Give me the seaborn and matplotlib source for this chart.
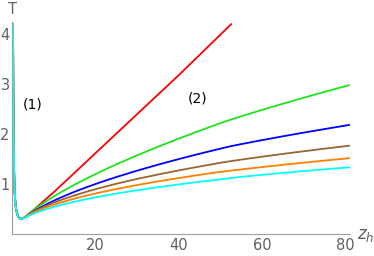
import matplotlib
matplotlib.use("Agg")
import matplotlib.pyplot as plt
from matplotlib.ticker import MultipleLocator
import seaborn as sns
import pandas as pd

# shared small-z branch (all curves coincide here)
z_left = [0.15, 0.2, 0.25, 0.3, 0.4, 0.5, 0.6, 0.8, 1.0, 1.3, 1.5, 1.8, 2.1, 2.5]
T_left = [4.2, 3.1, 2.4, 1.9, 1.3, 0.95, 0.75, 0.55, 0.45, 0.37, 0.34, 0.31, 0.305, 0.315]

# large-z branches
z_red = [3, 10, 20, 30, 40, 52.6]
T_red = [0.33, 0.84, 1.62, 2.40, 3.18, 4.2]

z_right = [3, 4, 5, 6, 8, 10, 12, 15, 18, 21, 25, 30, 35, 40, 45, 50, 52.3,
           55, 60, 65, 70, 75, 81]
T_green = [0.337, 0.408, 0.474, 0.536, 0.649, 0.754, 0.852, 0.99, 1.118, 1.24,
           1.394, 1.575, 1.746, 1.909, 2.066, 2.218, 2.284,
           2.355, 2.482, 2.606, 2.726, 2.843, 2.979]
T_blue = [0.331, 0.392, 0.446, 0.496, 0.587, 0.668, 0.743, 0.847, 0.941, 1.03,
          1.14, 1.268, 1.387, 1.499, 1.606, 1.708, 1.753,
          1.798, 1.878, 1.954, 2.028, 2.099, 2.182]
T_brown = [0.338, 0.392, 0.439, 0.483, 0.56, 0.628, 0.69, 0.774, 0.85, 0.92,
           1.006, 1.103, 1.19, 1.273, 1.35, 1.425, 1.455,
           1.488, 1.546, 1.602, 1.655, 1.707, 1.766]
T_orange = [0.335, 0.383, 0.425, 0.463, 0.529, 0.587, 0.639, 0.71, 0.772, 0.83,
            0.9, 0.98, 1.053, 1.12, 1.184, 1.244, 1.265,
            1.292, 1.339, 1.384, 1.427, 1.469, 1.516]
T_cyan = [0.322, 0.365, 0.402, 0.435, 0.493, 0.543, 0.588, 0.648, 0.701, 0.75,
          0.809, 0.876, 0.937, 0.992, 1.045, 1.094, 1.117,
          1.143, 1.183, 1.222, 1.259, 1.294, 1.334]

curves = [
    ("red", "#ff0000", z_red, T_red),
    ("green", "#1fe31f", z_right, T_green),
    ("blue", "#0000ff", z_right, T_blue),
    ("brown", "#996633", z_right, T_brown),
    ("orange", "#ff8000", z_right, T_orange),
    ("cyan", "#00ffff", z_right, T_cyan),
]

rows = []
for name, _, zs, ts in curves:
    for z, t in zip(z_left + zs, T_left + ts):
        rows.append({"z": z, "T": t, "curve": name})
df = pd.DataFrame(rows)
palette = {name: col for name, col, _, _ in curves}

sns.set_style("white")
fig = plt.figure(figsize=(3.74, 2.56), dpi=100)
ax = fig.add_axes([12.4 / 374, 22 / 256, (350 - 12.4) / 374, 212 / 256])

sns.lineplot(data=df, x="z", y="T", hue="curve", palette=palette,
             hue_order=[c[0] for c in curves], sort=False, estimator=None,
             linewidth=1.3, legend=False, ax=ax)

ax.set_xlim(0, 81.1)
ax.set_ylim(0, 4.24)

axis_gray = "#a0a0a0"
for side in ["top", "right"]:
    ax.spines[side].set_visible(False)
for side in ["left", "bottom"]:
    ax.spines[side].set_color(axis_gray)
    ax.spines[side].set_linewidth(0.8)

ax.xaxis.set_major_locator(MultipleLocator(20))
ax.xaxis.set_minor_locator(MultipleLocator(5))
ax.yaxis.set_major_locator(MultipleLocator(1))
ax.yaxis.set_minor_locator(MultipleLocator(0.2))
ax.set_xticks([20, 40, 60, 80])
ax.set_yticks([1, 2, 3, 4])
ax.tick_params(which="both", direction="in", color=axis_gray, labelcolor="#606060",
               labelsize=10.5, width=0.6)
ax.tick_params(which="major", length=4)
ax.tick_params(which="minor", length=2)
ax.tick_params(axis="x", pad=3)
ax.tick_params(axis="y", pad=2)
ax.set_xlabel("")
ax.set_ylabel("")

fig.text(12 / 374, 1 - 10 / 256, "T", ha="center", va="center", fontsize=10.5, color="#606060")
fig.text(366 / 374, 1 - 235 / 256, r"$z_h$", ha="center", va="center", fontsize=12, color="#606060")
ax.text(4.8, 2.6, "(1)", ha="center", va="center", fontsize=10, color="black")
ax.text(44.6, 2.72, "(2)", ha="center", va="center", fontsize=10, color="black")

fig.savefig("out.png", dpi=100)
